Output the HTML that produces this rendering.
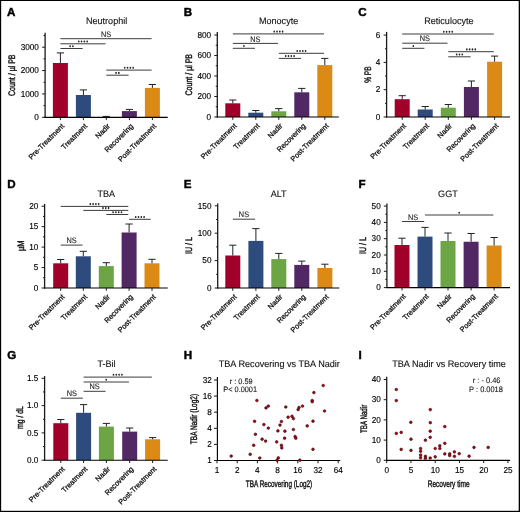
<!DOCTYPE html>
<html><head><meta charset="utf-8"><title>Figure</title>
<style>
html,body{margin:0;padding:0;background:#fff;}
body{width:520px;height:512px;overflow:hidden;}
svg{display:block;will-change:transform;}
svg text{font-family:"Liberation Sans", sans-serif;text-rendering:geometricPrecision;stroke:#111;stroke-width:0.28px;paint-order:stroke;}
svg text.t{stroke-width:0.12px;}
svg text.n{stroke-width:0.1px;}
svg text.k{stroke-width:0.15px;}
svg text.y{stroke-width:0.4px;}
svg text.L{stroke:#000;stroke-width:0.45px;}
</style></head>
<body>
<svg width="520" height="512" viewBox="0 0 520 512">
<rect x="0" y="0" width="520" height="512" fill="#fff"/>
<rect x="52.90" y="63.00" width="15.0" height="54.30" fill="#a1002a"/>
<line x1="60.40" y1="63.00" x2="60.40" y2="52.90" stroke="#222" stroke-width="1.0"/>
<line x1="56.80" y1="52.90" x2="64.00" y2="52.90" stroke="#222" stroke-width="1.0"/>
<rect x="75.90" y="95.00" width="15.0" height="22.30" fill="#2d4b7c"/>
<line x1="83.40" y1="95.00" x2="83.40" y2="89.90" stroke="#222" stroke-width="1.0"/>
<line x1="79.80" y1="89.90" x2="87.00" y2="89.90" stroke="#222" stroke-width="1.0"/>
<line x1="106.30" y1="117.00" x2="106.30" y2="116.40" stroke="#222" stroke-width="1.0"/>
<line x1="102.70" y1="116.40" x2="109.90" y2="116.40" stroke="#222" stroke-width="1.0"/>
<rect x="121.90" y="111.10" width="15.0" height="6.20" fill="#522864"/>
<line x1="129.40" y1="111.10" x2="129.40" y2="109.40" stroke="#222" stroke-width="1.0"/>
<line x1="125.80" y1="109.40" x2="133.00" y2="109.40" stroke="#222" stroke-width="1.0"/>
<rect x="144.90" y="87.90" width="15.0" height="29.40" fill="#db8a16"/>
<line x1="152.40" y1="87.90" x2="152.40" y2="84.50" stroke="#222" stroke-width="1.0"/>
<line x1="148.80" y1="84.50" x2="156.00" y2="84.50" stroke="#222" stroke-width="1.0"/>
<line x1="45.10" y1="32.70" x2="45.10" y2="117.80" stroke="#1a1a1a" stroke-width="1.3"/>
<line x1="44.50" y1="117.30" x2="167.70" y2="117.30" stroke="#000" stroke-width="1.15"/>
<line x1="42.10" y1="117.30" x2="45.10" y2="117.30" stroke="#1a1a1a" stroke-width="1.0"/>
<text class="k" transform="translate(38.90,120.05) scale(0.955,1)" font-size="8.6" text-anchor="end">0</text>
<line x1="42.10" y1="93.93" x2="45.10" y2="93.93" stroke="#1a1a1a" stroke-width="1.0"/>
<text class="k" transform="translate(38.90,96.68) scale(0.955,1)" font-size="8.6" text-anchor="end">1000</text>
<line x1="42.10" y1="70.56" x2="45.10" y2="70.56" stroke="#1a1a1a" stroke-width="1.0"/>
<text class="k" transform="translate(38.90,73.31) scale(0.955,1)" font-size="8.6" text-anchor="end">2000</text>
<line x1="42.10" y1="47.19" x2="45.10" y2="47.19" stroke="#1a1a1a" stroke-width="1.0"/>
<text class="k" transform="translate(38.90,49.94) scale(0.955,1)" font-size="8.6" text-anchor="end">3000</text>
<line x1="43.50" y1="105.61" x2="45.10" y2="105.61" stroke="#1a1a1a" stroke-width="1.0"/>
<line x1="43.50" y1="82.25" x2="45.10" y2="82.25" stroke="#1a1a1a" stroke-width="1.0"/>
<line x1="43.50" y1="58.87" x2="45.10" y2="58.87" stroke="#1a1a1a" stroke-width="1.0"/>
<line x1="43.50" y1="35.50" x2="45.10" y2="35.50" stroke="#1a1a1a" stroke-width="1.0"/>
<line x1="60.40" y1="117.30" x2="60.40" y2="120.10" stroke="#1a1a1a" stroke-width="1.0"/>
<text transform="translate(64.70,126.60) rotate(-45)" font-size="7.35" text-anchor="end" fill="#111">Pre-Treatment</text>
<line x1="83.40" y1="117.30" x2="83.40" y2="120.10" stroke="#1a1a1a" stroke-width="1.0"/>
<text transform="translate(87.70,126.60) rotate(-45)" font-size="7.35" text-anchor="end" fill="#111">Treatment</text>
<line x1="106.30" y1="117.30" x2="106.30" y2="120.10" stroke="#1a1a1a" stroke-width="1.0"/>
<text transform="translate(110.60,126.60) rotate(-45)" font-size="7.35" text-anchor="end" fill="#111">Nadir</text>
<line x1="129.40" y1="117.30" x2="129.40" y2="120.10" stroke="#1a1a1a" stroke-width="1.0"/>
<text transform="translate(133.70,126.60) rotate(-45)" font-size="7.35" text-anchor="end" fill="#111">Recovering</text>
<line x1="152.40" y1="117.30" x2="152.40" y2="120.10" stroke="#1a1a1a" stroke-width="1.0"/>
<text transform="translate(156.70,126.60) rotate(-45)" font-size="7.35" text-anchor="end" fill="#111">Post-Treatment</text>
<line x1="60.40" y1="38.70" x2="151.60" y2="38.70" stroke="#3c3c3c" stroke-width="1.0"/>
<text class="n" transform="translate(106.00,36.80) scale(0.93,1)" font-size="7.9" text-anchor="middle" fill="#222">NS</text>
<line x1="60.40" y1="43.80" x2="105.50" y2="43.80" stroke="#3c3c3c" stroke-width="1.0"/>
<ellipse cx="78.75" cy="41.50" rx="0.85" ry="1.05" fill="#222"/>
<ellipse cx="81.55" cy="41.50" rx="0.85" ry="1.05" fill="#222"/>
<ellipse cx="84.35" cy="41.50" rx="0.85" ry="1.05" fill="#222"/>
<ellipse cx="87.15" cy="41.50" rx="0.85" ry="1.05" fill="#222"/>
<line x1="60.40" y1="48.50" x2="82.60" y2="48.50" stroke="#3c3c3c" stroke-width="1.0"/>
<ellipse cx="70.10" cy="46.20" rx="0.85" ry="1.05" fill="#222"/>
<ellipse cx="72.90" cy="46.20" rx="0.85" ry="1.05" fill="#222"/>
<line x1="106.30" y1="70.10" x2="151.60" y2="70.10" stroke="#3c3c3c" stroke-width="1.0"/>
<ellipse cx="124.75" cy="67.80" rx="0.85" ry="1.05" fill="#222"/>
<ellipse cx="127.55" cy="67.80" rx="0.85" ry="1.05" fill="#222"/>
<ellipse cx="130.35" cy="67.80" rx="0.85" ry="1.05" fill="#222"/>
<ellipse cx="133.15" cy="67.80" rx="0.85" ry="1.05" fill="#222"/>
<line x1="106.30" y1="75.20" x2="128.60" y2="75.20" stroke="#3c3c3c" stroke-width="1.0"/>
<ellipse cx="116.05" cy="72.90" rx="0.85" ry="1.05" fill="#222"/>
<ellipse cx="118.85" cy="72.90" rx="0.85" ry="1.05" fill="#222"/>
<text class="t" transform="translate(106.60,24.10) scale(0.965,1)" font-size="9.4" text-anchor="middle" fill="#111">Neutrophil</text>
<text class="y" transform="translate(14.70,75.20) rotate(-90) scale(0.739,1)" x="0" y="0" font-size="9.5" text-anchor="middle" fill="#111">Count / µl PB</text>
<text x="7.00" y="16.25" font-size="11.6" text-anchor="start" font-weight="bold" fill="#000" class="L">A</text>
<rect x="225.30" y="103.30" width="15.0" height="13.70" fill="#a1002a"/>
<line x1="232.80" y1="103.30" x2="232.80" y2="100.00" stroke="#222" stroke-width="1.0"/>
<line x1="229.20" y1="100.00" x2="236.40" y2="100.00" stroke="#222" stroke-width="1.0"/>
<rect x="248.30" y="112.70" width="15.0" height="4.30" fill="#2d4b7c"/>
<line x1="255.80" y1="112.70" x2="255.80" y2="110.50" stroke="#222" stroke-width="1.0"/>
<line x1="252.20" y1="110.50" x2="259.40" y2="110.50" stroke="#222" stroke-width="1.0"/>
<rect x="271.30" y="111.30" width="15.0" height="5.70" fill="#6ca644"/>
<line x1="278.80" y1="111.30" x2="278.80" y2="108.60" stroke="#222" stroke-width="1.0"/>
<line x1="275.20" y1="108.60" x2="282.40" y2="108.60" stroke="#222" stroke-width="1.0"/>
<rect x="294.30" y="92.30" width="15.0" height="24.70" fill="#522864"/>
<line x1="301.80" y1="92.30" x2="301.80" y2="88.40" stroke="#222" stroke-width="1.0"/>
<line x1="298.20" y1="88.40" x2="305.40" y2="88.40" stroke="#222" stroke-width="1.0"/>
<rect x="317.30" y="65.10" width="15.0" height="51.90" fill="#db8a16"/>
<line x1="324.80" y1="65.10" x2="324.80" y2="58.40" stroke="#222" stroke-width="1.0"/>
<line x1="321.20" y1="58.40" x2="328.40" y2="58.40" stroke="#222" stroke-width="1.0"/>
<line x1="217.30" y1="32.00" x2="217.30" y2="117.50" stroke="#1a1a1a" stroke-width="1.3"/>
<line x1="216.70" y1="117.00" x2="338.80" y2="117.00" stroke="#000" stroke-width="1.15"/>
<line x1="214.30" y1="117.00" x2="217.30" y2="117.00" stroke="#1a1a1a" stroke-width="1.0"/>
<text class="k" transform="translate(211.10,119.75) scale(0.955,1)" font-size="8.6" text-anchor="end">0</text>
<line x1="214.30" y1="96.50" x2="217.30" y2="96.50" stroke="#1a1a1a" stroke-width="1.0"/>
<text class="k" transform="translate(211.10,99.25) scale(0.955,1)" font-size="8.6" text-anchor="end">200</text>
<line x1="214.30" y1="76.00" x2="217.30" y2="76.00" stroke="#1a1a1a" stroke-width="1.0"/>
<text class="k" transform="translate(211.10,78.75) scale(0.955,1)" font-size="8.6" text-anchor="end">400</text>
<line x1="214.30" y1="55.50" x2="217.30" y2="55.50" stroke="#1a1a1a" stroke-width="1.0"/>
<text class="k" transform="translate(211.10,58.25) scale(0.955,1)" font-size="8.6" text-anchor="end">600</text>
<line x1="214.30" y1="35.00" x2="217.30" y2="35.00" stroke="#1a1a1a" stroke-width="1.0"/>
<text class="k" transform="translate(211.10,37.75) scale(0.955,1)" font-size="8.6" text-anchor="end">800</text>
<line x1="215.70" y1="106.75" x2="217.30" y2="106.75" stroke="#1a1a1a" stroke-width="1.0"/>
<line x1="215.70" y1="86.25" x2="217.30" y2="86.25" stroke="#1a1a1a" stroke-width="1.0"/>
<line x1="215.70" y1="65.75" x2="217.30" y2="65.75" stroke="#1a1a1a" stroke-width="1.0"/>
<line x1="215.70" y1="45.25" x2="217.30" y2="45.25" stroke="#1a1a1a" stroke-width="1.0"/>
<line x1="232.80" y1="117.00" x2="232.80" y2="119.80" stroke="#1a1a1a" stroke-width="1.0"/>
<text transform="translate(237.10,126.30) rotate(-45)" font-size="7.35" text-anchor="end" fill="#111">Pre-Treatment</text>
<line x1="255.80" y1="117.00" x2="255.80" y2="119.80" stroke="#1a1a1a" stroke-width="1.0"/>
<text transform="translate(260.10,126.30) rotate(-45)" font-size="7.35" text-anchor="end" fill="#111">Treatment</text>
<line x1="278.80" y1="117.00" x2="278.80" y2="119.80" stroke="#1a1a1a" stroke-width="1.0"/>
<text transform="translate(283.10,126.30) rotate(-45)" font-size="7.35" text-anchor="end" fill="#111">Nadir</text>
<line x1="301.80" y1="117.00" x2="301.80" y2="119.80" stroke="#1a1a1a" stroke-width="1.0"/>
<text transform="translate(306.10,126.30) rotate(-45)" font-size="7.35" text-anchor="end" fill="#111">Recovering</text>
<line x1="324.80" y1="117.00" x2="324.80" y2="119.80" stroke="#1a1a1a" stroke-width="1.0"/>
<text transform="translate(329.10,126.30) rotate(-45)" font-size="7.35" text-anchor="end" fill="#111">Post-Treatment</text>
<line x1="232.80" y1="33.90" x2="324.00" y2="33.90" stroke="#3c3c3c" stroke-width="1.0"/>
<ellipse cx="274.20" cy="31.60" rx="0.85" ry="1.05" fill="#222"/>
<ellipse cx="277.00" cy="31.60" rx="0.85" ry="1.05" fill="#222"/>
<ellipse cx="279.80" cy="31.60" rx="0.85" ry="1.05" fill="#222"/>
<ellipse cx="282.60" cy="31.60" rx="0.85" ry="1.05" fill="#222"/>
<line x1="232.80" y1="43.40" x2="278.00" y2="43.40" stroke="#3c3c3c" stroke-width="1.0"/>
<text class="n" transform="translate(255.40,41.50) scale(0.93,1)" font-size="7.9" text-anchor="middle" fill="#222">NS</text>
<line x1="232.80" y1="48.30" x2="255.00" y2="48.30" stroke="#3c3c3c" stroke-width="1.0"/>
<ellipse cx="243.90" cy="46.00" rx="0.85" ry="1.05" fill="#222"/>
<line x1="278.80" y1="53.30" x2="324.00" y2="53.30" stroke="#3c3c3c" stroke-width="1.0"/>
<ellipse cx="297.20" cy="51.00" rx="0.85" ry="1.05" fill="#222"/>
<ellipse cx="300.00" cy="51.00" rx="0.85" ry="1.05" fill="#222"/>
<ellipse cx="302.80" cy="51.00" rx="0.85" ry="1.05" fill="#222"/>
<ellipse cx="305.60" cy="51.00" rx="0.85" ry="1.05" fill="#222"/>
<line x1="278.80" y1="58.40" x2="301.00" y2="58.40" stroke="#3c3c3c" stroke-width="1.0"/>
<ellipse cx="285.70" cy="56.10" rx="0.85" ry="1.05" fill="#222"/>
<ellipse cx="288.50" cy="56.10" rx="0.85" ry="1.05" fill="#222"/>
<ellipse cx="291.30" cy="56.10" rx="0.85" ry="1.05" fill="#222"/>
<ellipse cx="294.10" cy="56.10" rx="0.85" ry="1.05" fill="#222"/>
<text class="t" transform="translate(278.60,24.10) scale(0.965,1)" font-size="9.4" text-anchor="middle" fill="#111">Monocyte</text>
<text class="y" transform="translate(192.20,74.70) rotate(-90) scale(0.739,1)" x="0" y="0" font-size="9.5" text-anchor="middle" fill="#111">Count / µl PB</text>
<text x="183.80" y="16.05" font-size="11.6" text-anchor="start" font-weight="bold" fill="#000" class="L">B</text>
<rect x="394.70" y="99.20" width="15.0" height="17.80" fill="#a1002a"/>
<line x1="402.20" y1="99.20" x2="402.20" y2="95.70" stroke="#222" stroke-width="1.0"/>
<line x1="398.60" y1="95.70" x2="405.80" y2="95.70" stroke="#222" stroke-width="1.0"/>
<rect x="417.70" y="109.50" width="15.0" height="7.50" fill="#2d4b7c"/>
<line x1="425.20" y1="109.50" x2="425.20" y2="106.50" stroke="#222" stroke-width="1.0"/>
<line x1="421.60" y1="106.50" x2="428.80" y2="106.50" stroke="#222" stroke-width="1.0"/>
<rect x="440.80" y="107.70" width="15.0" height="9.30" fill="#6ca644"/>
<line x1="448.30" y1="107.70" x2="448.30" y2="104.50" stroke="#222" stroke-width="1.0"/>
<line x1="444.70" y1="104.50" x2="451.90" y2="104.50" stroke="#222" stroke-width="1.0"/>
<rect x="463.90" y="87.00" width="15.0" height="30.00" fill="#522864"/>
<line x1="471.40" y1="87.00" x2="471.40" y2="81.00" stroke="#222" stroke-width="1.0"/>
<line x1="467.80" y1="81.00" x2="475.00" y2="81.00" stroke="#222" stroke-width="1.0"/>
<rect x="487.10" y="61.70" width="15.0" height="55.30" fill="#db8a16"/>
<line x1="494.60" y1="61.70" x2="494.60" y2="56.10" stroke="#222" stroke-width="1.0"/>
<line x1="491.00" y1="56.10" x2="498.20" y2="56.10" stroke="#222" stroke-width="1.0"/>
<line x1="386.60" y1="31.90" x2="386.60" y2="117.50" stroke="#1a1a1a" stroke-width="1.3"/>
<line x1="386.00" y1="117.00" x2="510.00" y2="117.00" stroke="#000" stroke-width="1.15"/>
<line x1="383.60" y1="117.00" x2="386.60" y2="117.00" stroke="#1a1a1a" stroke-width="1.0"/>
<text class="k" transform="translate(380.40,119.75) scale(0.955,1)" font-size="8.6" text-anchor="end">0</text>
<line x1="383.60" y1="89.70" x2="386.60" y2="89.70" stroke="#1a1a1a" stroke-width="1.0"/>
<text class="k" transform="translate(380.40,92.45) scale(0.955,1)" font-size="8.6" text-anchor="end">2</text>
<line x1="383.60" y1="62.40" x2="386.60" y2="62.40" stroke="#1a1a1a" stroke-width="1.0"/>
<text class="k" transform="translate(380.40,65.15) scale(0.955,1)" font-size="8.6" text-anchor="end">4</text>
<line x1="383.60" y1="35.10" x2="386.60" y2="35.10" stroke="#1a1a1a" stroke-width="1.0"/>
<text class="k" transform="translate(380.40,37.85) scale(0.955,1)" font-size="8.6" text-anchor="end">6</text>
<line x1="385.00" y1="103.35" x2="386.60" y2="103.35" stroke="#1a1a1a" stroke-width="1.0"/>
<line x1="385.00" y1="76.05" x2="386.60" y2="76.05" stroke="#1a1a1a" stroke-width="1.0"/>
<line x1="385.00" y1="48.75" x2="386.60" y2="48.75" stroke="#1a1a1a" stroke-width="1.0"/>
<line x1="402.20" y1="117.00" x2="402.20" y2="119.80" stroke="#1a1a1a" stroke-width="1.0"/>
<text transform="translate(406.50,126.30) rotate(-45)" font-size="7.35" text-anchor="end" fill="#111">Pre-Treatment</text>
<line x1="425.20" y1="117.00" x2="425.20" y2="119.80" stroke="#1a1a1a" stroke-width="1.0"/>
<text transform="translate(429.50,126.30) rotate(-45)" font-size="7.35" text-anchor="end" fill="#111">Treatment</text>
<line x1="448.30" y1="117.00" x2="448.30" y2="119.80" stroke="#1a1a1a" stroke-width="1.0"/>
<text transform="translate(452.60,126.30) rotate(-45)" font-size="7.35" text-anchor="end" fill="#111">Nadir</text>
<line x1="471.40" y1="117.00" x2="471.40" y2="119.80" stroke="#1a1a1a" stroke-width="1.0"/>
<text transform="translate(475.70,126.30) rotate(-45)" font-size="7.35" text-anchor="end" fill="#111">Recovering</text>
<line x1="494.60" y1="117.00" x2="494.60" y2="119.80" stroke="#1a1a1a" stroke-width="1.0"/>
<text transform="translate(498.90,126.30) rotate(-45)" font-size="7.35" text-anchor="end" fill="#111">Post-Treatment</text>
<line x1="402.20" y1="34.00" x2="493.80" y2="34.00" stroke="#3c3c3c" stroke-width="1.0"/>
<ellipse cx="443.80" cy="31.70" rx="0.85" ry="1.05" fill="#222"/>
<ellipse cx="446.60" cy="31.70" rx="0.85" ry="1.05" fill="#222"/>
<ellipse cx="449.40" cy="31.70" rx="0.85" ry="1.05" fill="#222"/>
<ellipse cx="452.20" cy="31.70" rx="0.85" ry="1.05" fill="#222"/>
<line x1="402.20" y1="43.20" x2="447.50" y2="43.20" stroke="#3c3c3c" stroke-width="1.0"/>
<text class="n" transform="translate(424.85,41.30) scale(0.93,1)" font-size="7.9" text-anchor="middle" fill="#222">NS</text>
<line x1="402.20" y1="48.30" x2="424.40" y2="48.30" stroke="#3c3c3c" stroke-width="1.0"/>
<ellipse cx="413.30" cy="46.00" rx="0.85" ry="1.05" fill="#222"/>
<line x1="448.30" y1="51.70" x2="493.80" y2="51.70" stroke="#3c3c3c" stroke-width="1.0"/>
<ellipse cx="466.85" cy="49.40" rx="0.85" ry="1.05" fill="#222"/>
<ellipse cx="469.65" cy="49.40" rx="0.85" ry="1.05" fill="#222"/>
<ellipse cx="472.45" cy="49.40" rx="0.85" ry="1.05" fill="#222"/>
<ellipse cx="475.25" cy="49.40" rx="0.85" ry="1.05" fill="#222"/>
<line x1="448.30" y1="56.80" x2="470.60" y2="56.80" stroke="#3c3c3c" stroke-width="1.0"/>
<ellipse cx="456.65" cy="54.50" rx="0.85" ry="1.05" fill="#222"/>
<ellipse cx="459.45" cy="54.50" rx="0.85" ry="1.05" fill="#222"/>
<ellipse cx="462.25" cy="54.50" rx="0.85" ry="1.05" fill="#222"/>
<text class="t" transform="translate(448.90,24.10) scale(0.965,1)" font-size="9.4" text-anchor="middle" fill="#111">Reticulocyte</text>
<text class="y" transform="translate(371.20,74.60) rotate(-90) scale(0.690,1)" x="0" y="0" font-size="9.5" text-anchor="middle" fill="#111">% PB</text>
<text x="358.30" y="15.65" font-size="11.6" text-anchor="start" font-weight="bold" fill="#000" class="L">C</text>
<rect x="53.20" y="263.30" width="15.0" height="24.70" fill="#a1002a"/>
<line x1="60.70" y1="263.30" x2="60.70" y2="259.50" stroke="#222" stroke-width="1.0"/>
<line x1="57.10" y1="259.50" x2="64.30" y2="259.50" stroke="#222" stroke-width="1.0"/>
<rect x="75.80" y="256.30" width="15.0" height="31.70" fill="#2d4b7c"/>
<line x1="83.30" y1="256.30" x2="83.30" y2="251.30" stroke="#222" stroke-width="1.0"/>
<line x1="79.70" y1="251.30" x2="86.90" y2="251.30" stroke="#222" stroke-width="1.0"/>
<rect x="98.80" y="266.10" width="15.0" height="21.90" fill="#6ca644"/>
<line x1="106.30" y1="266.10" x2="106.30" y2="262.70" stroke="#222" stroke-width="1.0"/>
<line x1="102.70" y1="262.70" x2="109.90" y2="262.70" stroke="#222" stroke-width="1.0"/>
<rect x="121.60" y="232.50" width="15.0" height="55.50" fill="#522864"/>
<line x1="129.10" y1="232.50" x2="129.10" y2="224.00" stroke="#222" stroke-width="1.0"/>
<line x1="125.50" y1="224.00" x2="132.70" y2="224.00" stroke="#222" stroke-width="1.0"/>
<rect x="144.50" y="263.30" width="15.0" height="24.70" fill="#db8a16"/>
<line x1="152.00" y1="263.30" x2="152.00" y2="259.30" stroke="#222" stroke-width="1.0"/>
<line x1="148.40" y1="259.30" x2="155.60" y2="259.30" stroke="#222" stroke-width="1.0"/>
<line x1="44.60" y1="203.90" x2="44.60" y2="288.50" stroke="#1a1a1a" stroke-width="1.3"/>
<line x1="44.00" y1="288.00" x2="167.70" y2="288.00" stroke="#000" stroke-width="1.15"/>
<line x1="41.60" y1="288.00" x2="44.60" y2="288.00" stroke="#1a1a1a" stroke-width="1.0"/>
<text class="k" transform="translate(38.40,290.75) scale(0.955,1)" font-size="8.6" text-anchor="end">0</text>
<line x1="41.60" y1="267.55" x2="44.60" y2="267.55" stroke="#1a1a1a" stroke-width="1.0"/>
<text class="k" transform="translate(38.40,270.30) scale(0.955,1)" font-size="8.6" text-anchor="end">5</text>
<line x1="41.60" y1="247.10" x2="44.60" y2="247.10" stroke="#1a1a1a" stroke-width="1.0"/>
<text class="k" transform="translate(38.40,249.85) scale(0.955,1)" font-size="8.6" text-anchor="end">10</text>
<line x1="41.60" y1="226.65" x2="44.60" y2="226.65" stroke="#1a1a1a" stroke-width="1.0"/>
<text class="k" transform="translate(38.40,229.40) scale(0.955,1)" font-size="8.6" text-anchor="end">15</text>
<line x1="41.60" y1="206.20" x2="44.60" y2="206.20" stroke="#1a1a1a" stroke-width="1.0"/>
<text class="k" transform="translate(38.40,208.95) scale(0.955,1)" font-size="8.6" text-anchor="end">20</text>
<line x1="43.00" y1="277.77" x2="44.60" y2="277.77" stroke="#1a1a1a" stroke-width="1.0"/>
<line x1="43.00" y1="257.32" x2="44.60" y2="257.32" stroke="#1a1a1a" stroke-width="1.0"/>
<line x1="43.00" y1="236.88" x2="44.60" y2="236.88" stroke="#1a1a1a" stroke-width="1.0"/>
<line x1="43.00" y1="216.43" x2="44.60" y2="216.43" stroke="#1a1a1a" stroke-width="1.0"/>
<line x1="60.70" y1="288.00" x2="60.70" y2="290.80" stroke="#1a1a1a" stroke-width="1.0"/>
<text transform="translate(65.00,297.30) rotate(-45)" font-size="7.35" text-anchor="end" fill="#111">Pre-Treatment</text>
<line x1="83.30" y1="288.00" x2="83.30" y2="290.80" stroke="#1a1a1a" stroke-width="1.0"/>
<text transform="translate(87.60,297.30) rotate(-45)" font-size="7.35" text-anchor="end" fill="#111">Treatment</text>
<line x1="106.30" y1="288.00" x2="106.30" y2="290.80" stroke="#1a1a1a" stroke-width="1.0"/>
<text transform="translate(110.60,297.30) rotate(-45)" font-size="7.35" text-anchor="end" fill="#111">Nadir</text>
<line x1="129.10" y1="288.00" x2="129.10" y2="290.80" stroke="#1a1a1a" stroke-width="1.0"/>
<text transform="translate(133.40,297.30) rotate(-45)" font-size="7.35" text-anchor="end" fill="#111">Recovering</text>
<line x1="152.00" y1="288.00" x2="152.00" y2="290.80" stroke="#1a1a1a" stroke-width="1.0"/>
<text transform="translate(156.30,297.30) rotate(-45)" font-size="7.35" text-anchor="end" fill="#111">Post-Treatment</text>
<line x1="60.70" y1="206.40" x2="128.30" y2="206.40" stroke="#3c3c3c" stroke-width="1.0"/>
<ellipse cx="90.30" cy="204.10" rx="0.85" ry="1.05" fill="#222"/>
<ellipse cx="93.10" cy="204.10" rx="0.85" ry="1.05" fill="#222"/>
<ellipse cx="95.90" cy="204.10" rx="0.85" ry="1.05" fill="#222"/>
<ellipse cx="98.70" cy="204.10" rx="0.85" ry="1.05" fill="#222"/>
<line x1="83.30" y1="210.40" x2="128.30" y2="210.40" stroke="#3c3c3c" stroke-width="1.0"/>
<ellipse cx="103.00" cy="208.10" rx="0.85" ry="1.05" fill="#222"/>
<ellipse cx="105.80" cy="208.10" rx="0.85" ry="1.05" fill="#222"/>
<ellipse cx="108.60" cy="208.10" rx="0.85" ry="1.05" fill="#222"/>
<line x1="106.30" y1="214.50" x2="128.30" y2="214.50" stroke="#3c3c3c" stroke-width="1.0"/>
<ellipse cx="113.10" cy="212.20" rx="0.85" ry="1.05" fill="#222"/>
<ellipse cx="115.90" cy="212.20" rx="0.85" ry="1.05" fill="#222"/>
<ellipse cx="118.70" cy="212.20" rx="0.85" ry="1.05" fill="#222"/>
<ellipse cx="121.50" cy="212.20" rx="0.85" ry="1.05" fill="#222"/>
<line x1="129.10" y1="219.30" x2="150.70" y2="219.30" stroke="#3c3c3c" stroke-width="1.0"/>
<ellipse cx="135.70" cy="217.00" rx="0.85" ry="1.05" fill="#222"/>
<ellipse cx="138.50" cy="217.00" rx="0.85" ry="1.05" fill="#222"/>
<ellipse cx="141.30" cy="217.00" rx="0.85" ry="1.05" fill="#222"/>
<ellipse cx="144.10" cy="217.00" rx="0.85" ry="1.05" fill="#222"/>
<line x1="60.70" y1="245.10" x2="82.50" y2="245.10" stroke="#3c3c3c" stroke-width="1.0"/>
<text class="n" transform="translate(71.60,243.20) scale(0.93,1)" font-size="7.9" text-anchor="middle" fill="#222">NS</text>
<text class="t" transform="translate(106.20,196.70) scale(0.965,1)" font-size="9.4" text-anchor="middle" fill="#111">TBA</text>
<text class="y" transform="translate(24.30,245.80) rotate(-90) scale(0.792,1)" x="0" y="0" font-size="9.5" text-anchor="middle" fill="#111">µM</text>
<text x="7.30" y="188.35" font-size="11.6" text-anchor="start" font-weight="bold" fill="#000" class="L">D</text>
<rect x="225.30" y="255.50" width="15.0" height="32.50" fill="#a1002a"/>
<line x1="232.80" y1="255.50" x2="232.80" y2="245.20" stroke="#222" stroke-width="1.0"/>
<line x1="229.20" y1="245.20" x2="236.40" y2="245.20" stroke="#222" stroke-width="1.0"/>
<rect x="248.40" y="240.90" width="15.0" height="47.10" fill="#2d4b7c"/>
<line x1="255.90" y1="240.90" x2="255.90" y2="228.60" stroke="#222" stroke-width="1.0"/>
<line x1="252.30" y1="228.60" x2="259.50" y2="228.60" stroke="#222" stroke-width="1.0"/>
<rect x="271.30" y="259.10" width="15.0" height="28.90" fill="#6ca644"/>
<line x1="278.80" y1="259.10" x2="278.80" y2="253.40" stroke="#222" stroke-width="1.0"/>
<line x1="275.20" y1="253.40" x2="282.40" y2="253.40" stroke="#222" stroke-width="1.0"/>
<rect x="294.30" y="264.90" width="15.0" height="23.10" fill="#522864"/>
<line x1="301.80" y1="264.90" x2="301.80" y2="261.10" stroke="#222" stroke-width="1.0"/>
<line x1="298.20" y1="261.10" x2="305.40" y2="261.10" stroke="#222" stroke-width="1.0"/>
<rect x="317.40" y="268.00" width="15.0" height="20.00" fill="#db8a16"/>
<line x1="324.90" y1="268.00" x2="324.90" y2="264.20" stroke="#222" stroke-width="1.0"/>
<line x1="321.30" y1="264.20" x2="328.50" y2="264.20" stroke="#222" stroke-width="1.0"/>
<line x1="217.70" y1="203.50" x2="217.70" y2="288.50" stroke="#1a1a1a" stroke-width="1.3"/>
<line x1="217.10" y1="288.00" x2="339.30" y2="288.00" stroke="#000" stroke-width="1.15"/>
<line x1="214.70" y1="288.00" x2="217.70" y2="288.00" stroke="#1a1a1a" stroke-width="1.0"/>
<text class="k" transform="translate(211.50,290.75) scale(0.955,1)" font-size="8.6" text-anchor="end">0</text>
<line x1="214.70" y1="260.60" x2="217.70" y2="260.60" stroke="#1a1a1a" stroke-width="1.0"/>
<text class="k" transform="translate(211.50,263.35) scale(0.955,1)" font-size="8.6" text-anchor="end">50</text>
<line x1="214.70" y1="233.20" x2="217.70" y2="233.20" stroke="#1a1a1a" stroke-width="1.0"/>
<text class="k" transform="translate(211.50,235.95) scale(0.955,1)" font-size="8.6" text-anchor="end">100</text>
<line x1="214.70" y1="205.80" x2="217.70" y2="205.80" stroke="#1a1a1a" stroke-width="1.0"/>
<text class="k" transform="translate(211.50,208.55) scale(0.955,1)" font-size="8.6" text-anchor="end">150</text>
<line x1="216.10" y1="274.30" x2="217.70" y2="274.30" stroke="#1a1a1a" stroke-width="1.0"/>
<line x1="216.10" y1="246.90" x2="217.70" y2="246.90" stroke="#1a1a1a" stroke-width="1.0"/>
<line x1="216.10" y1="219.50" x2="217.70" y2="219.50" stroke="#1a1a1a" stroke-width="1.0"/>
<line x1="232.80" y1="288.00" x2="232.80" y2="290.80" stroke="#1a1a1a" stroke-width="1.0"/>
<text transform="translate(237.10,297.30) rotate(-45)" font-size="7.35" text-anchor="end" fill="#111">Pre-Treatment</text>
<line x1="255.90" y1="288.00" x2="255.90" y2="290.80" stroke="#1a1a1a" stroke-width="1.0"/>
<text transform="translate(260.20,297.30) rotate(-45)" font-size="7.35" text-anchor="end" fill="#111">Treatment</text>
<line x1="278.80" y1="288.00" x2="278.80" y2="290.80" stroke="#1a1a1a" stroke-width="1.0"/>
<text transform="translate(283.10,297.30) rotate(-45)" font-size="7.35" text-anchor="end" fill="#111">Nadir</text>
<line x1="301.80" y1="288.00" x2="301.80" y2="290.80" stroke="#1a1a1a" stroke-width="1.0"/>
<text transform="translate(306.10,297.30) rotate(-45)" font-size="7.35" text-anchor="end" fill="#111">Recovering</text>
<line x1="324.90" y1="288.00" x2="324.90" y2="290.80" stroke="#1a1a1a" stroke-width="1.0"/>
<text transform="translate(329.20,297.30) rotate(-45)" font-size="7.35" text-anchor="end" fill="#111">Post-Treatment</text>
<line x1="232.80" y1="219.20" x2="255.10" y2="219.20" stroke="#3c3c3c" stroke-width="1.0"/>
<text class="n" transform="translate(243.95,217.30) scale(0.93,1)" font-size="7.9" text-anchor="middle" fill="#222">NS</text>
<text class="t" transform="translate(278.60,196.60) scale(0.965,1)" font-size="9.4" text-anchor="middle" fill="#111">ALT</text>
<text class="y" transform="translate(192.20,245.50) rotate(-90) scale(0.753,1)" x="0" y="0" font-size="9.5" text-anchor="middle" fill="#111">IU / L</text>
<text x="183.80" y="188.35" font-size="11.6" text-anchor="start" font-weight="bold" fill="#000" class="L">E</text>
<rect x="394.50" y="245.00" width="15.0" height="42.60" fill="#a1002a"/>
<line x1="402.00" y1="245.00" x2="402.00" y2="238.20" stroke="#222" stroke-width="1.0"/>
<line x1="398.40" y1="238.20" x2="405.60" y2="238.20" stroke="#222" stroke-width="1.0"/>
<rect x="417.50" y="236.60" width="15.0" height="51.00" fill="#2d4b7c"/>
<line x1="425.00" y1="236.60" x2="425.00" y2="227.40" stroke="#222" stroke-width="1.0"/>
<line x1="421.40" y1="227.40" x2="428.60" y2="227.40" stroke="#222" stroke-width="1.0"/>
<rect x="440.50" y="241.00" width="15.0" height="46.60" fill="#6ca644"/>
<line x1="448.00" y1="241.00" x2="448.00" y2="233.00" stroke="#222" stroke-width="1.0"/>
<line x1="444.40" y1="233.00" x2="451.60" y2="233.00" stroke="#222" stroke-width="1.0"/>
<rect x="463.60" y="241.75" width="15.0" height="45.85" fill="#522864"/>
<line x1="471.10" y1="241.75" x2="471.10" y2="233.50" stroke="#222" stroke-width="1.0"/>
<line x1="467.50" y1="233.50" x2="474.70" y2="233.50" stroke="#222" stroke-width="1.0"/>
<rect x="486.60" y="245.50" width="15.0" height="42.10" fill="#db8a16"/>
<line x1="494.10" y1="245.50" x2="494.10" y2="237.50" stroke="#222" stroke-width="1.0"/>
<line x1="490.50" y1="237.50" x2="497.70" y2="237.50" stroke="#222" stroke-width="1.0"/>
<line x1="386.90" y1="203.50" x2="386.90" y2="288.10" stroke="#1a1a1a" stroke-width="1.3"/>
<line x1="386.30" y1="287.60" x2="510.00" y2="287.60" stroke="#000" stroke-width="1.15"/>
<line x1="383.90" y1="287.60" x2="386.90" y2="287.60" stroke="#1a1a1a" stroke-width="1.0"/>
<text class="k" transform="translate(380.70,290.35) scale(0.955,1)" font-size="8.6" text-anchor="end">0</text>
<line x1="383.90" y1="271.30" x2="386.90" y2="271.30" stroke="#1a1a1a" stroke-width="1.0"/>
<text class="k" transform="translate(380.70,274.05) scale(0.955,1)" font-size="8.6" text-anchor="end">10</text>
<line x1="383.90" y1="255.00" x2="386.90" y2="255.00" stroke="#1a1a1a" stroke-width="1.0"/>
<text class="k" transform="translate(380.70,257.75) scale(0.955,1)" font-size="8.6" text-anchor="end">20</text>
<line x1="383.90" y1="238.70" x2="386.90" y2="238.70" stroke="#1a1a1a" stroke-width="1.0"/>
<text class="k" transform="translate(380.70,241.45) scale(0.955,1)" font-size="8.6" text-anchor="end">30</text>
<line x1="383.90" y1="222.40" x2="386.90" y2="222.40" stroke="#1a1a1a" stroke-width="1.0"/>
<text class="k" transform="translate(380.70,225.15) scale(0.955,1)" font-size="8.6" text-anchor="end">40</text>
<line x1="383.90" y1="206.10" x2="386.90" y2="206.10" stroke="#1a1a1a" stroke-width="1.0"/>
<text class="k" transform="translate(380.70,208.85) scale(0.955,1)" font-size="8.6" text-anchor="end">50</text>
<line x1="385.30" y1="279.45" x2="386.90" y2="279.45" stroke="#1a1a1a" stroke-width="1.0"/>
<line x1="385.30" y1="263.15" x2="386.90" y2="263.15" stroke="#1a1a1a" stroke-width="1.0"/>
<line x1="385.30" y1="246.85" x2="386.90" y2="246.85" stroke="#1a1a1a" stroke-width="1.0"/>
<line x1="385.30" y1="230.55" x2="386.90" y2="230.55" stroke="#1a1a1a" stroke-width="1.0"/>
<line x1="385.30" y1="214.25" x2="386.90" y2="214.25" stroke="#1a1a1a" stroke-width="1.0"/>
<line x1="402.00" y1="287.60" x2="402.00" y2="290.40" stroke="#1a1a1a" stroke-width="1.0"/>
<text transform="translate(406.30,296.90) rotate(-45)" font-size="7.35" text-anchor="end" fill="#111">Pre-Treatment</text>
<line x1="425.00" y1="287.60" x2="425.00" y2="290.40" stroke="#1a1a1a" stroke-width="1.0"/>
<text transform="translate(429.30,296.90) rotate(-45)" font-size="7.35" text-anchor="end" fill="#111">Treatment</text>
<line x1="448.00" y1="287.60" x2="448.00" y2="290.40" stroke="#1a1a1a" stroke-width="1.0"/>
<text transform="translate(452.30,296.90) rotate(-45)" font-size="7.35" text-anchor="end" fill="#111">Nadir</text>
<line x1="471.10" y1="287.60" x2="471.10" y2="290.40" stroke="#1a1a1a" stroke-width="1.0"/>
<text transform="translate(475.40,296.90) rotate(-45)" font-size="7.35" text-anchor="end" fill="#111">Recovering</text>
<line x1="494.10" y1="287.60" x2="494.10" y2="290.40" stroke="#1a1a1a" stroke-width="1.0"/>
<text transform="translate(498.40,296.90) rotate(-45)" font-size="7.35" text-anchor="end" fill="#111">Post-Treatment</text>
<line x1="402.00" y1="221.50" x2="424.20" y2="221.50" stroke="#3c3c3c" stroke-width="1.0"/>
<text class="n" transform="translate(413.10,219.60) scale(0.93,1)" font-size="7.9" text-anchor="middle" fill="#222">NS</text>
<line x1="425.00" y1="215.00" x2="493.30" y2="215.00" stroke="#3c3c3c" stroke-width="1.0"/>
<ellipse cx="459.15" cy="212.70" rx="0.85" ry="1.05" fill="#222"/>
<text class="t" transform="translate(447.90,196.60) scale(0.965,1)" font-size="9.4" text-anchor="middle" fill="#111">GGT</text>
<text class="y" transform="translate(365.90,245.50) rotate(-90) scale(0.753,1)" x="0" y="0" font-size="9.5" text-anchor="middle" fill="#111">IU / L</text>
<text x="358.60" y="188.35" font-size="11.6" text-anchor="start" font-weight="bold" fill="#000" class="L">F</text>
<rect x="53.30" y="423.20" width="15.0" height="37.00" fill="#a1002a"/>
<line x1="60.80" y1="423.20" x2="60.80" y2="419.50" stroke="#222" stroke-width="1.0"/>
<line x1="57.20" y1="419.50" x2="64.40" y2="419.50" stroke="#222" stroke-width="1.0"/>
<rect x="76.10" y="412.80" width="15.0" height="47.40" fill="#2d4b7c"/>
<line x1="83.60" y1="412.80" x2="83.60" y2="404.60" stroke="#222" stroke-width="1.0"/>
<line x1="80.00" y1="404.60" x2="87.20" y2="404.60" stroke="#222" stroke-width="1.0"/>
<rect x="98.90" y="426.60" width="15.0" height="33.60" fill="#6ca644"/>
<line x1="106.40" y1="426.60" x2="106.40" y2="423.40" stroke="#222" stroke-width="1.0"/>
<line x1="102.80" y1="423.40" x2="110.00" y2="423.40" stroke="#222" stroke-width="1.0"/>
<rect x="122.20" y="431.60" width="15.0" height="28.60" fill="#522864"/>
<line x1="129.70" y1="431.60" x2="129.70" y2="428.00" stroke="#222" stroke-width="1.0"/>
<line x1="126.10" y1="428.00" x2="133.30" y2="428.00" stroke="#222" stroke-width="1.0"/>
<rect x="145.10" y="439.30" width="15.0" height="20.90" fill="#db8a16"/>
<line x1="152.60" y1="439.30" x2="152.60" y2="437.60" stroke="#222" stroke-width="1.0"/>
<line x1="149.00" y1="437.60" x2="156.20" y2="437.60" stroke="#222" stroke-width="1.0"/>
<line x1="44.60" y1="376.10" x2="44.60" y2="460.70" stroke="#1a1a1a" stroke-width="1.3"/>
<line x1="44.00" y1="460.20" x2="167.70" y2="460.20" stroke="#000" stroke-width="1.15"/>
<line x1="41.60" y1="460.20" x2="44.60" y2="460.20" stroke="#1a1a1a" stroke-width="1.0"/>
<text class="k" transform="translate(38.40,462.95) scale(0.955,1)" font-size="8.6" text-anchor="end">0.0</text>
<line x1="41.60" y1="432.90" x2="44.60" y2="432.90" stroke="#1a1a1a" stroke-width="1.0"/>
<text class="k" transform="translate(38.40,435.65) scale(0.955,1)" font-size="8.6" text-anchor="end">0.5</text>
<line x1="41.60" y1="405.60" x2="44.60" y2="405.60" stroke="#1a1a1a" stroke-width="1.0"/>
<text class="k" transform="translate(38.40,408.35) scale(0.955,1)" font-size="8.6" text-anchor="end">1.0</text>
<line x1="41.60" y1="378.30" x2="44.60" y2="378.30" stroke="#1a1a1a" stroke-width="1.0"/>
<text class="k" transform="translate(38.40,381.05) scale(0.955,1)" font-size="8.6" text-anchor="end">1.5</text>
<line x1="43.00" y1="446.55" x2="44.60" y2="446.55" stroke="#1a1a1a" stroke-width="1.0"/>
<line x1="43.00" y1="419.25" x2="44.60" y2="419.25" stroke="#1a1a1a" stroke-width="1.0"/>
<line x1="43.00" y1="391.95" x2="44.60" y2="391.95" stroke="#1a1a1a" stroke-width="1.0"/>
<line x1="60.80" y1="460.20" x2="60.80" y2="463.00" stroke="#1a1a1a" stroke-width="1.0"/>
<text transform="translate(65.10,469.50) rotate(-45)" font-size="7.35" text-anchor="end" fill="#111">Pre-Treatment</text>
<line x1="83.60" y1="460.20" x2="83.60" y2="463.00" stroke="#1a1a1a" stroke-width="1.0"/>
<text transform="translate(87.90,469.50) rotate(-45)" font-size="7.35" text-anchor="end" fill="#111">Treatment</text>
<line x1="106.40" y1="460.20" x2="106.40" y2="463.00" stroke="#1a1a1a" stroke-width="1.0"/>
<text transform="translate(110.70,469.50) rotate(-45)" font-size="7.35" text-anchor="end" fill="#111">Nadir</text>
<line x1="129.70" y1="460.20" x2="129.70" y2="463.00" stroke="#1a1a1a" stroke-width="1.0"/>
<text transform="translate(134.00,469.50) rotate(-45)" font-size="7.35" text-anchor="end" fill="#111">Recovering</text>
<line x1="152.60" y1="460.20" x2="152.60" y2="463.00" stroke="#1a1a1a" stroke-width="1.0"/>
<text transform="translate(156.90,469.50) rotate(-45)" font-size="7.35" text-anchor="end" fill="#111">Post-Treatment</text>
<line x1="83.60" y1="377.10" x2="151.80" y2="377.10" stroke="#3c3c3c" stroke-width="1.0"/>
<ellipse cx="113.50" cy="374.80" rx="0.85" ry="1.05" fill="#222"/>
<ellipse cx="116.30" cy="374.80" rx="0.85" ry="1.05" fill="#222"/>
<ellipse cx="119.10" cy="374.80" rx="0.85" ry="1.05" fill="#222"/>
<ellipse cx="121.90" cy="374.80" rx="0.85" ry="1.05" fill="#222"/>
<line x1="83.60" y1="382.00" x2="128.90" y2="382.00" stroke="#3c3c3c" stroke-width="1.0"/>
<ellipse cx="106.25" cy="379.70" rx="0.85" ry="1.05" fill="#222"/>
<line x1="83.60" y1="391.30" x2="105.60" y2="391.30" stroke="#3c3c3c" stroke-width="1.0"/>
<text class="n" transform="translate(94.60,389.40) scale(0.93,1)" font-size="7.9" text-anchor="middle" fill="#222">NS</text>
<line x1="60.80" y1="398.20" x2="82.80" y2="398.20" stroke="#3c3c3c" stroke-width="1.0"/>
<text class="n" transform="translate(71.80,396.30) scale(0.93,1)" font-size="7.9" text-anchor="middle" fill="#222">NS</text>
<text class="t" transform="translate(106.50,366.70) scale(0.965,1)" font-size="9.4" text-anchor="middle" fill="#111">T-Bil</text>
<text class="y" transform="translate(22.60,417.60) rotate(-90) scale(0.720,1)" x="0" y="0" font-size="9.5" text-anchor="middle" fill="#111">mg / dL</text>
<text x="7.30" y="359.15" font-size="11.6" text-anchor="start" font-weight="bold" fill="#000" class="L">G</text>
<text x="183.80" y="359.15" font-size="11.6" text-anchor="start" font-weight="bold" fill="#000" class="L">H</text>
<text class="t" transform="translate(218.75,366.80) scale(0.97,1)" font-size="9.4" text-anchor="start" fill="#111">TBA Recovering vs TBA Nadir</text>
<line x1="217.40" y1="376.90" x2="217.40" y2="461.00" stroke="#000" stroke-width="1.15"/>
<line x1="216.40" y1="460.50" x2="340.30" y2="460.50" stroke="#000" stroke-width="1.15"/>
<line x1="214.00" y1="460.50" x2="217.00" y2="460.50" stroke="#1a1a1a" stroke-width="1.0"/>
<text class="k" transform="translate(211.80,463.25) scale(0.955,1)" font-size="8.6" text-anchor="end">1</text>
<line x1="214.00" y1="444.40" x2="217.00" y2="444.40" stroke="#1a1a1a" stroke-width="1.0"/>
<text class="k" transform="translate(211.80,447.15) scale(0.955,1)" font-size="8.6" text-anchor="end">2</text>
<line x1="214.00" y1="428.30" x2="217.00" y2="428.30" stroke="#1a1a1a" stroke-width="1.0"/>
<text class="k" transform="translate(211.80,431.05) scale(0.955,1)" font-size="8.6" text-anchor="end">4</text>
<line x1="214.00" y1="412.20" x2="217.00" y2="412.20" stroke="#1a1a1a" stroke-width="1.0"/>
<text class="k" transform="translate(211.80,414.95) scale(0.955,1)" font-size="8.6" text-anchor="end">8</text>
<line x1="214.00" y1="396.10" x2="217.00" y2="396.10" stroke="#1a1a1a" stroke-width="1.0"/>
<text class="k" transform="translate(211.80,398.85) scale(0.955,1)" font-size="8.6" text-anchor="end">16</text>
<line x1="214.00" y1="380.00" x2="217.00" y2="380.00" stroke="#1a1a1a" stroke-width="1.0"/>
<text class="k" transform="translate(211.80,382.75) scale(0.955,1)" font-size="8.6" text-anchor="end">32</text>
<line x1="217.00" y1="460.50" x2="217.00" y2="463.30" stroke="#1a1a1a" stroke-width="1.0"/>
<text class="k" transform="translate(217.00,473.25) scale(0.955,1)" font-size="8.6" text-anchor="middle">1</text>
<line x1="237.20" y1="460.50" x2="237.20" y2="463.30" stroke="#1a1a1a" stroke-width="1.0"/>
<text class="k" transform="translate(237.20,473.25) scale(0.955,1)" font-size="8.6" text-anchor="middle">2</text>
<line x1="257.40" y1="460.50" x2="257.40" y2="463.30" stroke="#1a1a1a" stroke-width="1.0"/>
<text class="k" transform="translate(257.40,473.25) scale(0.955,1)" font-size="8.6" text-anchor="middle">4</text>
<line x1="277.60" y1="460.50" x2="277.60" y2="463.30" stroke="#1a1a1a" stroke-width="1.0"/>
<text class="k" transform="translate(277.60,473.25) scale(0.955,1)" font-size="8.6" text-anchor="middle">8</text>
<line x1="297.80" y1="460.50" x2="297.80" y2="463.30" stroke="#1a1a1a" stroke-width="1.0"/>
<text class="k" transform="translate(297.80,473.25) scale(0.955,1)" font-size="8.6" text-anchor="middle">16</text>
<line x1="318.00" y1="460.50" x2="318.00" y2="463.30" stroke="#1a1a1a" stroke-width="1.0"/>
<text class="k" transform="translate(318.00,473.25) scale(0.955,1)" font-size="8.6" text-anchor="middle">32</text>
<line x1="338.20" y1="460.50" x2="338.20" y2="463.30" stroke="#1a1a1a" stroke-width="1.0"/>
<text class="k" transform="translate(338.20,473.25) scale(0.955,1)" font-size="8.6" text-anchor="middle">64</text>
<text class="n" transform="translate(241.20,383.60) scale(0.93,1)" font-size="7.9" text-anchor="middle" fill="#111">r : 0.59</text>
<text class="n" transform="translate(240.20,391.80) scale(0.93,1)" font-size="7.9" text-anchor="middle" fill="#111">P&lt; 0.0001</text>
<text class="y" transform="translate(279.00,486.60) scale(0.673,1)" x="0" y="0" font-size="9.5" text-anchor="middle" fill="#111">TBA Recovering (Log2)</text>
<text class="y" transform="translate(197.30,419.00) rotate(-90) scale(0.685,1)" x="0" y="0" font-size="9.5" text-anchor="middle" fill="#111">TBA Nadir (Log2)</text>
<circle cx="256.90" cy="400.50" r="1.35" fill="#a80a18" stroke="#2a0306" stroke-width="0.55"/>
<circle cx="266.00" cy="407.90" r="1.35" fill="#a80a18" stroke="#2a0306" stroke-width="0.55"/>
<circle cx="268.30" cy="406.10" r="1.35" fill="#a80a18" stroke="#2a0306" stroke-width="0.55"/>
<circle cx="254.60" cy="421.30" r="1.35" fill="#a80a18" stroke="#2a0306" stroke-width="0.55"/>
<circle cx="263.90" cy="424.60" r="1.35" fill="#a80a18" stroke="#2a0306" stroke-width="0.55"/>
<circle cx="268.30" cy="428.10" r="1.35" fill="#a80a18" stroke="#2a0306" stroke-width="0.55"/>
<circle cx="255.40" cy="434.30" r="1.35" fill="#a80a18" stroke="#2a0306" stroke-width="0.55"/>
<circle cx="262.10" cy="439.20" r="1.35" fill="#a80a18" stroke="#2a0306" stroke-width="0.55"/>
<circle cx="265.60" cy="441.10" r="1.35" fill="#a80a18" stroke="#2a0306" stroke-width="0.55"/>
<circle cx="253.70" cy="445.30" r="1.35" fill="#a80a18" stroke="#2a0306" stroke-width="0.55"/>
<circle cx="231.20" cy="456.10" r="1.35" fill="#a80a18" stroke="#2a0306" stroke-width="0.55"/>
<circle cx="250.20" cy="454.30" r="1.35" fill="#a80a18" stroke="#2a0306" stroke-width="0.55"/>
<circle cx="259.80" cy="458.00" r="1.35" fill="#a80a18" stroke="#2a0306" stroke-width="0.55"/>
<circle cx="281.40" cy="421.50" r="1.35" fill="#a80a18" stroke="#2a0306" stroke-width="0.55"/>
<circle cx="280.00" cy="425.10" r="1.35" fill="#a80a18" stroke="#2a0306" stroke-width="0.55"/>
<circle cx="277.90" cy="430.90" r="1.35" fill="#a80a18" stroke="#2a0306" stroke-width="0.55"/>
<circle cx="276.70" cy="441.90" r="1.35" fill="#a80a18" stroke="#2a0306" stroke-width="0.55"/>
<circle cx="281.40" cy="445.30" r="1.35" fill="#a80a18" stroke="#2a0306" stroke-width="0.55"/>
<circle cx="281.80" cy="447.90" r="1.35" fill="#a80a18" stroke="#2a0306" stroke-width="0.55"/>
<circle cx="278.30" cy="457.90" r="1.35" fill="#a80a18" stroke="#2a0306" stroke-width="0.55"/>
<circle cx="277.00" cy="460.20" r="1.35" fill="#a80a18" stroke="#2a0306" stroke-width="0.55"/>
<circle cx="285.80" cy="407.00" r="1.35" fill="#a80a18" stroke="#2a0306" stroke-width="0.55"/>
<circle cx="284.90" cy="431.20" r="1.35" fill="#a80a18" stroke="#2a0306" stroke-width="0.55"/>
<circle cx="284.60" cy="438.20" r="1.35" fill="#a80a18" stroke="#2a0306" stroke-width="0.55"/>
<circle cx="323.20" cy="385.50" r="1.35" fill="#a80a18" stroke="#2a0306" stroke-width="0.55"/>
<circle cx="313.90" cy="392.60" r="1.35" fill="#a80a18" stroke="#2a0306" stroke-width="0.55"/>
<circle cx="312.20" cy="400.50" r="1.35" fill="#a80a18" stroke="#2a0306" stroke-width="0.55"/>
<circle cx="312.20" cy="401.70" r="1.35" fill="#a80a18" stroke="#2a0306" stroke-width="0.55"/>
<circle cx="302.50" cy="406.10" r="1.35" fill="#a80a18" stroke="#2a0306" stroke-width="0.55"/>
<circle cx="299.00" cy="407.50" r="1.35" fill="#a80a18" stroke="#2a0306" stroke-width="0.55"/>
<circle cx="298.10" cy="409.60" r="1.35" fill="#a80a18" stroke="#2a0306" stroke-width="0.55"/>
<circle cx="324.50" cy="411.00" r="1.35" fill="#a80a18" stroke="#2a0306" stroke-width="0.55"/>
<circle cx="288.10" cy="417.20" r="1.35" fill="#a80a18" stroke="#2a0306" stroke-width="0.55"/>
<circle cx="292.00" cy="416.30" r="1.35" fill="#a80a18" stroke="#2a0306" stroke-width="0.55"/>
<circle cx="293.40" cy="418.60" r="1.35" fill="#a80a18" stroke="#2a0306" stroke-width="0.55"/>
<circle cx="313.00" cy="421.20" r="1.35" fill="#a80a18" stroke="#2a0306" stroke-width="0.55"/>
<circle cx="307.20" cy="425.90" r="1.35" fill="#a80a18" stroke="#2a0306" stroke-width="0.55"/>
<circle cx="293.40" cy="429.50" r="1.35" fill="#a80a18" stroke="#2a0306" stroke-width="0.55"/>
<circle cx="295.10" cy="436.50" r="1.35" fill="#a80a18" stroke="#2a0306" stroke-width="0.55"/>
<circle cx="295.80" cy="438.20" r="1.35" fill="#a80a18" stroke="#2a0306" stroke-width="0.55"/>
<circle cx="313.00" cy="449.30" r="1.35" fill="#a80a18" stroke="#2a0306" stroke-width="0.55"/>
<circle cx="299.90" cy="460.20" r="1.35" fill="#a80a18" stroke="#2a0306" stroke-width="0.55"/>
<text x="358.60" y="359.25" font-size="11.6" text-anchor="start" font-weight="bold" fill="#000" class="L">I</text>
<text class="t" transform="translate(392.20,367.00) scale(0.97,1)" font-size="9.4" text-anchor="start" fill="#111">TBA Nadir vs Recovery time</text>
<line x1="386.70" y1="376.80" x2="386.70" y2="460.80" stroke="#1a1a1a" stroke-width="1.3"/>
<line x1="386.10" y1="460.30" x2="510.10" y2="460.30" stroke="#000" stroke-width="1.15"/>
<line x1="383.70" y1="460.30" x2="386.70" y2="460.30" stroke="#1a1a1a" stroke-width="1.0"/>
<text class="k" transform="translate(380.90,463.05) scale(0.955,1)" font-size="8.6" text-anchor="end">0</text>
<line x1="383.70" y1="440.10" x2="386.70" y2="440.10" stroke="#1a1a1a" stroke-width="1.0"/>
<text class="k" transform="translate(380.90,442.85) scale(0.955,1)" font-size="8.6" text-anchor="end">10</text>
<line x1="383.70" y1="419.90" x2="386.70" y2="419.90" stroke="#1a1a1a" stroke-width="1.0"/>
<text class="k" transform="translate(380.90,422.65) scale(0.955,1)" font-size="8.6" text-anchor="end">20</text>
<line x1="383.70" y1="399.70" x2="386.70" y2="399.70" stroke="#1a1a1a" stroke-width="1.0"/>
<text class="k" transform="translate(380.90,402.45) scale(0.955,1)" font-size="8.6" text-anchor="end">30</text>
<line x1="383.70" y1="379.50" x2="386.70" y2="379.50" stroke="#1a1a1a" stroke-width="1.0"/>
<text class="k" transform="translate(380.90,382.25) scale(0.955,1)" font-size="8.6" text-anchor="end">40</text>
<line x1="386.70" y1="460.30" x2="386.70" y2="463.10" stroke="#1a1a1a" stroke-width="1.0"/>
<text class="k" transform="translate(386.70,473.45) scale(0.955,1)" font-size="8.6" text-anchor="middle">0</text>
<line x1="410.95" y1="460.30" x2="410.95" y2="463.10" stroke="#1a1a1a" stroke-width="1.0"/>
<text class="k" transform="translate(410.95,473.45) scale(0.955,1)" font-size="8.6" text-anchor="middle">5</text>
<line x1="435.20" y1="460.30" x2="435.20" y2="463.10" stroke="#1a1a1a" stroke-width="1.0"/>
<text class="k" transform="translate(435.20,473.45) scale(0.955,1)" font-size="8.6" text-anchor="middle">10</text>
<line x1="459.45" y1="460.30" x2="459.45" y2="463.10" stroke="#1a1a1a" stroke-width="1.0"/>
<text class="k" transform="translate(459.45,473.45) scale(0.955,1)" font-size="8.6" text-anchor="middle">15</text>
<line x1="483.70" y1="460.30" x2="483.70" y2="463.10" stroke="#1a1a1a" stroke-width="1.0"/>
<text class="k" transform="translate(483.70,473.45) scale(0.955,1)" font-size="8.6" text-anchor="middle">20</text>
<line x1="507.95" y1="460.30" x2="507.95" y2="463.10" stroke="#1a1a1a" stroke-width="1.0"/>
<text class="k" transform="translate(507.95,473.45) scale(0.955,1)" font-size="8.6" text-anchor="middle">25</text>
<text class="n" transform="translate(500.50,383.40) scale(0.93,1)" font-size="8.0" text-anchor="end" fill="#111">r : - 0.46</text>
<text class="n" transform="translate(502.90,391.70) scale(0.93,1)" font-size="8.0" text-anchor="end" fill="#111">P : 0.0018</text>
<text class="y" transform="translate(448.60,486.60) scale(0.690,1)" x="0" y="0" font-size="9.5" text-anchor="middle" fill="#111">Recovery time</text>
<text class="y" transform="translate(367.20,418.90) rotate(-90) scale(0.651,1)" x="0" y="0" font-size="9.5" text-anchor="middle" fill="#111">TBA Nadir</text>
<circle cx="396.30" cy="389.50" r="1.35" fill="#a80a18" stroke="#2a0306" stroke-width="0.55"/>
<circle cx="396.30" cy="400.60" r="1.35" fill="#a80a18" stroke="#2a0306" stroke-width="0.55"/>
<circle cx="396.30" cy="433.40" r="1.35" fill="#a80a18" stroke="#2a0306" stroke-width="0.55"/>
<circle cx="401.20" cy="432.40" r="1.35" fill="#a80a18" stroke="#2a0306" stroke-width="0.55"/>
<circle cx="401.20" cy="449.40" r="1.35" fill="#a80a18" stroke="#2a0306" stroke-width="0.55"/>
<circle cx="410.80" cy="422.30" r="1.35" fill="#a80a18" stroke="#2a0306" stroke-width="0.55"/>
<circle cx="411.00" cy="439.20" r="1.35" fill="#a80a18" stroke="#2a0306" stroke-width="0.55"/>
<circle cx="411.00" cy="450.40" r="1.35" fill="#a80a18" stroke="#2a0306" stroke-width="0.55"/>
<circle cx="420.60" cy="448.50" r="1.35" fill="#a80a18" stroke="#2a0306" stroke-width="0.55"/>
<circle cx="420.60" cy="451.30" r="1.35" fill="#a80a18" stroke="#2a0306" stroke-width="0.55"/>
<circle cx="420.60" cy="455.00" r="1.35" fill="#a80a18" stroke="#2a0306" stroke-width="0.55"/>
<circle cx="420.60" cy="457.70" r="1.35" fill="#a80a18" stroke="#2a0306" stroke-width="0.55"/>
<circle cx="425.40" cy="440.20" r="1.35" fill="#a80a18" stroke="#2a0306" stroke-width="0.55"/>
<circle cx="425.40" cy="456.30" r="1.35" fill="#a80a18" stroke="#2a0306" stroke-width="0.55"/>
<circle cx="425.40" cy="458.30" r="1.35" fill="#a80a18" stroke="#2a0306" stroke-width="0.55"/>
<circle cx="430.30" cy="409.60" r="1.35" fill="#a80a18" stroke="#2a0306" stroke-width="0.55"/>
<circle cx="430.30" cy="422.70" r="1.35" fill="#a80a18" stroke="#2a0306" stroke-width="0.55"/>
<circle cx="430.20" cy="431.20" r="1.35" fill="#a80a18" stroke="#2a0306" stroke-width="0.55"/>
<circle cx="430.20" cy="437.30" r="1.35" fill="#a80a18" stroke="#2a0306" stroke-width="0.55"/>
<circle cx="430.20" cy="458.00" r="1.35" fill="#a80a18" stroke="#2a0306" stroke-width="0.55"/>
<circle cx="435.20" cy="448.50" r="1.35" fill="#a80a18" stroke="#2a0306" stroke-width="0.55"/>
<circle cx="435.20" cy="456.80" r="1.35" fill="#a80a18" stroke="#2a0306" stroke-width="0.55"/>
<circle cx="439.80" cy="445.80" r="1.35" fill="#a80a18" stroke="#2a0306" stroke-width="0.55"/>
<circle cx="439.80" cy="448.50" r="1.35" fill="#a80a18" stroke="#2a0306" stroke-width="0.55"/>
<circle cx="444.80" cy="426.60" r="1.35" fill="#a80a18" stroke="#2a0306" stroke-width="0.55"/>
<circle cx="444.80" cy="443.30" r="1.35" fill="#a80a18" stroke="#2a0306" stroke-width="0.55"/>
<circle cx="444.80" cy="453.90" r="1.35" fill="#a80a18" stroke="#2a0306" stroke-width="0.55"/>
<circle cx="449.70" cy="453.90" r="1.35" fill="#a80a18" stroke="#2a0306" stroke-width="0.55"/>
<circle cx="449.70" cy="455.60" r="1.35" fill="#a80a18" stroke="#2a0306" stroke-width="0.55"/>
<circle cx="454.40" cy="451.90" r="1.35" fill="#a80a18" stroke="#2a0306" stroke-width="0.55"/>
<circle cx="454.40" cy="456.30" r="1.35" fill="#a80a18" stroke="#2a0306" stroke-width="0.55"/>
<circle cx="459.20" cy="453.70" r="1.35" fill="#a80a18" stroke="#2a0306" stroke-width="0.55"/>
<circle cx="469.10" cy="456.20" r="1.35" fill="#a80a18" stroke="#2a0306" stroke-width="0.55"/>
<circle cx="474.00" cy="447.40" r="1.35" fill="#a80a18" stroke="#2a0306" stroke-width="0.55"/>
<circle cx="488.20" cy="447.40" r="1.35" fill="#a80a18" stroke="#2a0306" stroke-width="0.55"/>
<rect x="0" y="0" width="520" height="1" fill="#000"/>
<rect x="0" y="0" width="1.15" height="512" fill="#000"/>
<rect x="518.7" y="0" width="1.3" height="512" fill="#000"/>
<rect x="0" y="510.8" width="520" height="1.2" fill="#000"/>
</svg>
</body></html>
